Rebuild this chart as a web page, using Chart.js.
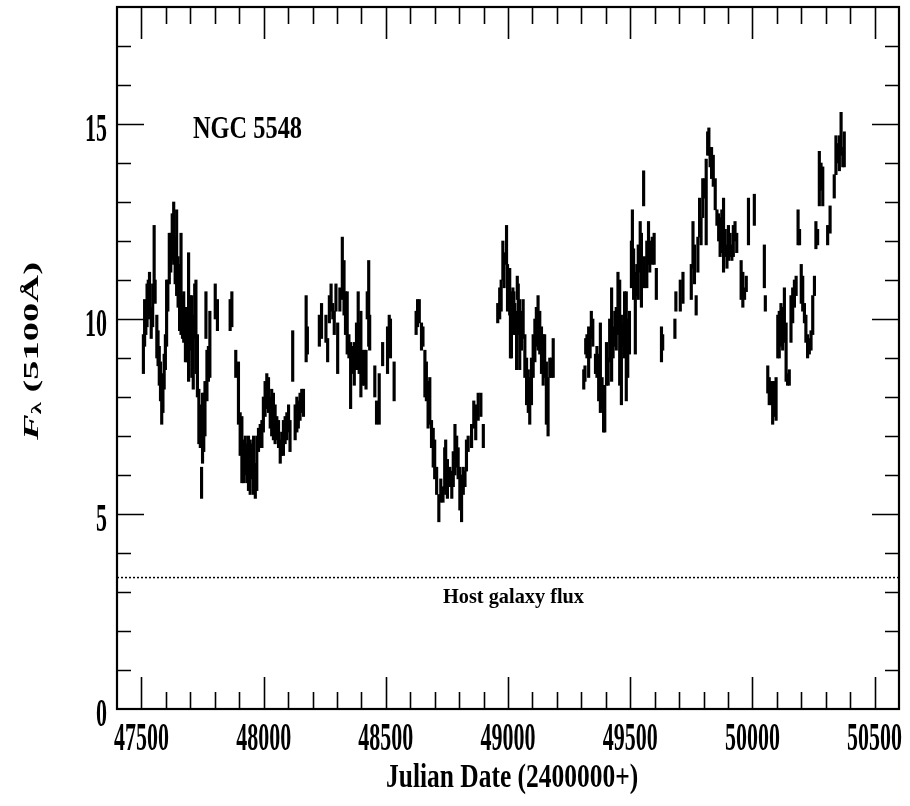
<!DOCTYPE html>
<html>
<head>
<meta charset="utf-8">
<script src="https://cdn.jsdelivr.net/npm/chart.js@4/dist/chart.umd.min.js"></script>
<style>
  html, body { margin: 0; padding: 0; background: #fff; }
  #wrap { width: 910px; height: 806px; }
</style>
</head>
<body>
<div id="wrap"><canvas id="lc" width="910" height="806"></canvas></div>
<script>
// Julian dates (2400000+) of the 5100 A continuum measurements
const jd = [
  47508,47513,47518,47523,47528,47533,47540,47546,47552,47556,
  47563,47568,47573,47578,47583,47588,47593,47598,47603,47608,
  47614,47620,47626,47632,47638,47644,47650,47656,47662,47668,
  47673,47680,47686,47693,47700,47706,47712,47718,47723,47729,
  47735,47741,47746,47750,47755,47760,47764,47768,47774,47780,
  47802,47811,47863,47870,47886,47897,47904,47911,47918,47925,
  47931,47938,47945,47952,47959,47966,47972,47979,47986,47993,
  47999,48006,48013,48020,48027,48033,48040,48047,48054,48061,
  48068,48074,48081,48088,48095,48102,48108,48119,48129,48136,
  48142,48149,48156,48163,48174,48179,48228,48237,48255,48262,
  48269,48276,48283,48289,48296,48303,48312,48322,48329,48335,
  48342,48349,48356,48364,48371,48380,48387,48391,48398,48405,
  48412,48419,48424,48430,48434,48455,48462,48473,48487,48507,
  48514,48519,48534,48624,48630,48637,48646,48652,48660,48666,
  48673,48680,48687,48694,48700,48708,48717,48725,48734,48741,
  48745,48752,48762,48770,48776,48783,48790,48796,48803,48810,
  48817,48824,48830,48837,48851,48860,48868,48878,48889,48899,
  48958,48966,48972,48979,48984,48994,48998,49003,49007,49010,
  49014,49020,49024,49028,49035,49038,49042,49048,49055,49062,
  49069,49076,49083,49089,49096,49103,49110,49116,49123,49130,
  49137,49144,49150,49157,49164,49171,49178,49185,49310,49315,
  49318,49323,49330,49336,49341,49347,49358,49364,49371,49378,
  49385,49391,49396,49403,49410,49416,49424,49430,49437,49443,
  49450,49457,49464,49470,49477,49484,49490,49497,49505,49509,
  49514,49521,49527,49533,49541,49546,49555,49558,49568,49575,
  49580,49590,49598,49607,49628,49633,49683,49687,49705,49716,
  49750,49757,49763,49770,49777,49784,49790,49797,49804,49811,
  49817,49822,49827,49833,49840,49848,49855,49862,49868,49875,
  49882,49889,49896,49902,49909,49916,49922,49929,49936,49954,
  49961,49968,49975,49984,50008,50049,50053,50063,50069,50076,
  50083,50090,50097,50104,50110,50117,50124,50131,50138,50144,
  50151,50158,50165,50172,50179,50187,50193,50200,50206,50213,
  50219,50226,50233,50240,50247,50254,50260,50267,50274,50281,
  50288,50308,50318,50335,50342,50349,50356,50363,50370,50376
];

// Continuum flux F(5100 A) at each date
const flux = [
  9.10,9.90,10.00,10.35,10.65,10.60,9.90,10.35,11.65,10.70,
  9.55,9.25,8.80,8.40,7.90,8.10,8.65,9.15,10.15,10.60,
  11.55,11.70,12.10,12.20,11.50,11.70,10.95,10.55,10.90,10.05,
  10.05,9.60,9.35,10.05,9.90,9.55,9.15,10.20,9.80,8.80,
  7.50,7.25,5.80,7.20,7.35,7.70,10.10,8.55,8.85,9.35,
  10.45,10.10,10.10,10.25,8.85,8.10,7.05,6.65,6.35,6.50,
  6.30,6.30,6.20,6.35,6.25,5.85,6.30,6.90,7.00,7.05,
  7.55,7.95,8.15,8.05,7.60,7.60,7.50,7.30,7.20,7.05,
  6.60,6.80,6.95,7.15,7.25,7.45,7.00,9.05,7.35,7.55,
  7.55,7.75,7.90,7.85,9.75,9.45,9.70,9.95,9.75,9.20,
  10.25,10.55,10.20,9.90,10.55,9.25,10.50,11.30,10.80,10.15,
  9.90,9.30,8.55,8.95,8.85,9.30,10.15,9.25,9.10,8.75,
  8.75,8.70,10.35,10.40,9.65,8.40,7.60,7.95,9.10,9.20,
  9.70,9.50,8.40,9.90,10.15,10.20,9.55,9.55,8.60,8.40,
  7.80,7.90,7.05,6.70,6.40,5.85,5.15,5.60,5.50,6.15,
  6.20,5.90,5.95,5.75,6.15,6.65,6.60,6.30,5.65,5.40,
  5.85,5.90,6.50,6.80,7.00,7.55,7.35,7.75,7.80,7.00,
  10.15,10.40,10.60,11.50,11.25,11.90,10.80,10.75,10.70,9.70,
  9.85,10.50,10.15,10.00,9.45,10.80,10.25,9.60,9.70,10.00,
  9.05,8.40,8.15,7.90,8.40,9.05,9.45,9.80,9.90,9.65,
  9.20,8.95,9.05,8.10,7.75,8.75,8.75,9.00,8.45,8.60,
  9.30,9.30,9.15,9.30,9.85,9.65,8.85,8.90,8.50,8.75,
  8.10,7.70,7.70,8.85,8.65,9.45,9.60,9.40,9.75,9.75,
  10.40,9.65,8.95,9.60,9.85,9.30,9.25,9.65,11.40,12.00,
  11.15,10.15,11.00,11.20,11.85,11.25,13.35,11.20,11.40,11.95,
  11.60,11.75,11.80,10.90,9.35,9.40,9.75,10.45,10.60,10.80,
  10.95,11.90,11.40,10.35,11.65,12.60,12.25,13.10,13.35,13.00,
  14.50,14.55,14.15,14.00,13.80,13.20,12.60,12.35,12.10,12.25,
  12.15,11.95,11.60,11.95,11.90,11.70,12.00,12.25,11.95,11.00,
  10.75,10.65,10.90,12.50,12.80,11.35,10.40,8.45,8.15,8.10,
  7.85,7.95,7.95,9.55,9.60,9.85,9.75,10.10,9.15,8.45,
  8.50,10.00,10.35,10.65,10.85,12.35,12.10,10.90,10.65,10.15,
  9.75,9.30,9.30,9.45,10.10,10.85,12.15,12.10,13.60,13.65,
  13.40,12.15,12.55,13.40,14.20,14.25,14.25,14.75,14.15,14.35
];

// One-sigma flux uncertainty (half length of each error bar)
const fluxErr = [
  0.50,0.60,0.40,0.55,0.35,0.60,0.40,0.55,0.75,0.30,
  0.55,0.45,0.50,0.50,0.60,0.50,0.45,0.45,0.85,0.40,
  0.65,0.50,0.60,0.80,0.60,1.10,0.65,0.85,1.30,0.55,
  0.65,0.70,0.45,1.65,0.70,1.05,0.95,0.70,1.20,0.80,
  0.70,0.55,0.40,0.90,0.75,0.70,0.60,0.65,0.45,0.85,
  0.45,0.40,0.40,0.45,0.35,0.80,0.55,0.85,0.55,0.50,
  0.50,0.70,0.70,0.45,0.75,0.45,0.70,0.30,0.30,0.35,
  0.45,0.45,0.45,0.45,0.40,0.60,0.60,0.50,0.30,0.35,
  0.30,0.30,0.45,0.35,0.35,0.35,0.40,0.65,0.45,0.45,
  0.35,0.35,0.30,0.35,0.85,0.35,0.40,0.45,0.35,0.30,
  0.35,0.35,0.20,0.30,0.35,0.65,0.30,0.80,0.70,0.55,
  0.80,0.30,0.85,0.35,0.55,0.60,0.55,0.65,1.10,0.45,
  0.45,0.50,0.35,1.10,0.45,0.40,0.30,0.65,0.30,0.60,
  0.40,0.50,0.50,0.30,0.35,0.30,0.35,0.25,0.60,0.50,
  0.60,0.60,0.35,0.50,0.50,0.35,0.35,0.30,0.20,0.55,
  0.70,0.50,0.25,0.35,0.45,0.65,0.40,0.40,0.55,0.60,
  0.35,0.20,0.40,0.20,0.30,0.35,0.45,0.35,0.30,0.30,
  0.25,0.40,0.40,0.50,0.45,0.50,0.60,0.45,0.60,0.70,
  0.85,0.30,0.55,0.40,0.75,0.30,0.65,0.90,0.50,0.50,
  0.55,0.60,0.55,0.60,0.60,0.55,0.55,0.50,0.70,0.55,
  0.60,0.65,0.55,0.80,0.75,0.25,0.25,0.50,0.25,0.20,
  0.20,0.30,0.65,0.30,0.35,0.35,0.25,0.40,0.60,1.15,
  0.40,0.60,0.60,0.55,0.35,0.55,1.20,0.40,0.45,0.55,
  0.80,1.35,1.15,0.30,0.85,1.40,0.75,0.55,0.60,0.80,
  0.65,1.05,0.40,0.70,0.65,0.95,0.45,0.40,0.60,0.55,
  0.40,0.35,0.40,0.40,0.45,0.20,0.25,0.25,0.40,0.40,
  0.45,0.60,0.50,0.25,0.45,0.50,0.35,0.50,0.25,1.10,
  0.30,0.35,0.25,0.40,0.40,0.40,0.20,0.35,0.50,0.55,
  0.95,0.35,0.30,0.45,0.30,0.20,0.40,0.25,0.25,0.50,
  0.45,0.15,0.20,0.60,0.40,0.55,0.20,0.35,0.35,0.30,
  0.55,0.45,0.55,0.55,0.60,0.55,0.55,0.70,0.75,0.15,
  0.20,0.60,0.45,0.35,0.25,0.45,0.20,0.50,0.45,0.25,
  0.35,0.30,0.20,0.25,0.50,0.25,0.35,0.20,0.70,0.35,
  0.50,0.25,0.35,0.30,0.50,0.25,0.45,0.55,0.25,0.45
];

// Host galaxy contribution to F(5100 A)
const hostFlux = 3.37;

// Axis ranges and labelled tick values
const xRange = [47400, 50600];
const yRange = [0, 18];
const xTickLabels = [47500, 48000, 48500, 49000, 49500, 50000, 50500];
const yTickLabels = [0, 5, 10, 15];

const SERIF = '"Liberation Serif", "Times New Roman", serif';

// Draws text inside a box of the given size, centred on (cx, cy)
function fitText(ctx, text, cx, cy, w, h, font, angle) {
  ctx.save();
  ctx.font = font;
  const m = ctx.measureText(text);
  const tw = m.actualBoundingBoxLeft + m.actualBoundingBoxRight;
  const th = m.actualBoundingBoxAscent + m.actualBoundingBoxDescent;
  ctx.translate(cx, cy);
  if (angle) ctx.rotate(angle);
  ctx.scale(w / tw, h / th);
  ctx.textAlign = 'left';
  ctx.textBaseline = 'alphabetic';
  ctx.fillText(text, -m.actualBoundingBoxLeft - tw / 2, m.actualBoundingBoxAscent - th / 2);
  ctx.restore();
}

// Text drawn with a vertical stretch, anchored by its horizontal alignment
function tallText(ctx, text, x, cy, size, stretch, align) {
  ctx.save();
  ctx.font = 'bold ' + size + 'px ' + SERIF;
  const m = ctx.measureText(text);
  const th = m.actualBoundingBoxAscent + m.actualBoundingBoxDescent;
  ctx.translate(x, cy);
  ctx.scale(1, stretch);
  ctx.textAlign = align;
  ctx.textBaseline = 'alphabetic';
  ctx.fillText(text, 0, m.actualBoundingBoxAscent - th / 2);
  ctx.restore();
}

// Frame with inward ticks on all four sides, tick labels and titles
const framePlugin = {
  id: 'frame',
  afterDatasetsDraw(chart) {
    const { ctx, chartArea: a, scales: { x, y } } = chart;
    ctx.save();
    ctx.strokeStyle = '#000';
    ctx.fillStyle = '#000';

    ctx.lineWidth = 1.6;
    ctx.beginPath();
    for (let v = xRange[0] + 100; v < xRange[1]; v += 100) {
      const px = Math.round(x.getPixelForValue(v)) + 0.5;
      const len = v % 500 === 0 ? 32 : 17;
      ctx.moveTo(px, a.bottom); ctx.lineTo(px, a.bottom - len);
      ctx.moveTo(px, a.top); ctx.lineTo(px, a.top + len);
    }
    for (let v = yRange[0] + 1; v < yRange[1]; v += 1) {
      const py = Math.round(y.getPixelForValue(v)) + 0.5;
      const len = v % 5 === 0 ? 27 : 14;
      ctx.moveTo(a.left, py); ctx.lineTo(a.left + len, py);
      ctx.moveTo(a.right, py); ctx.lineTo(a.right - len, py);
    }
    ctx.stroke();

    ctx.lineWidth = 2.2;
    ctx.strokeRect(a.left, a.top, a.right - a.left, a.bottom - a.top);

    xTickLabels.forEach(v => tallText(ctx, String(v), x.getPixelForValue(v), a.bottom + 28, 22, 1.8, 'center'));
    yTickLabels.forEach(v => tallText(ctx, String(v), a.left - 10, y.getPixelForValue(v) + 4, 22, 1.8, 'right'));

    fitText(ctx, 'Julian Date (2400000+)', 510, 779, 250, 30, 'bold 24px ' + SERIF, 0);
    fitText(ctx, 'NGC 5548', 247.5, 128, 109, 20, 'bold 24px ' + SERIF, 0);
    fitText(ctx, 'Host galaxy flux', 513.5, 598, 141, 19, 'bold 18px ' + SERIF, 0);

    // Y title: italic F with a lambda subscript, then the wavelength
    ctx.save();
    const parts = [
      { t: 'F', f: 'italic bold 22px ' + SERIF, dy: 0 },
      { t: '\u03bb', f: 'bold 14px ' + SERIF, dy: 5 },
      { t: ' (5100\u00c5)', f: 'bold 22px ' + SERIF, dy: 0 }
    ];
    let total = 0;
    parts.forEach(p => { ctx.font = p.f; p.w = ctx.measureText(p.t).width; total += p.w; });
    const titleLength = 178;
    ctx.translate(32, 351);
    ctx.rotate(-Math.PI / 2);
    ctx.scale(titleLength / total, 1.0);
    ctx.textBaseline = 'middle';
    ctx.textAlign = 'left';
    let cx = -total / 2;
    parts.forEach(p => { ctx.font = p.f; ctx.fillText(p.t, cx, p.dy); cx += p.w; });
    ctx.restore();

    ctx.restore();
  }
};

const points = jd.map((d, i) => ({ x: d, y: [flux[i] - fluxErr[i], flux[i] + fluxErr[i]] }));

new Chart(document.getElementById('lc'), {
  type: 'bar',
  data: {
    datasets: [
      {
        type: 'bar',
        data: points,
        backgroundColor: '#000',
        borderWidth: 0,
        barThickness: 2.5,
        grouped: false
      },
      {
        type: 'line',
        data: [{ x: xRange[0], y: hostFlux }, { x: xRange[1], y: hostFlux }],
        borderColor: '#000',
        borderWidth: 1.5,
        borderDash: [2, 2],
        pointRadius: 0,
        fill: false
      }
    ]
  },
  options: {
    responsive: false,
    animation: false,
    devicePixelRatio: 1,
    layout: { padding: { left: 117, right: 11, top: 7, bottom: 97 } },
    plugins: { legend: { display: false }, tooltip: { enabled: false } },
    scales: {
      x: { type: 'linear', min: xRange[0], max: xRange[1], offset: false, display: false },
      y: { type: 'linear', min: yRange[0], max: yRange[1], display: false }
    }
  },
  plugins: [framePlugin]
});
</script>
</body>
</html>
